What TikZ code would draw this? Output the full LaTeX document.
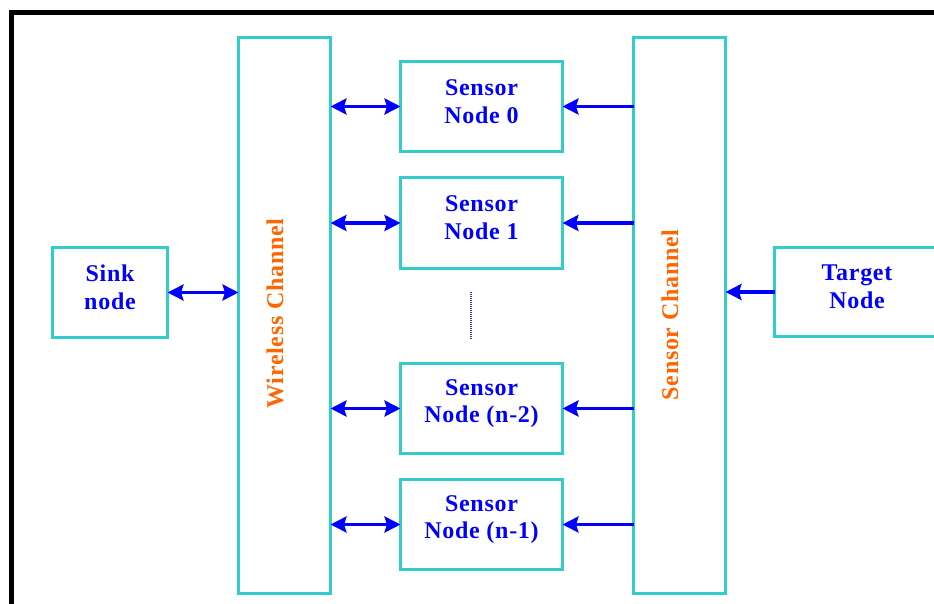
\documentclass[tikz,border=0pt]{standalone}
\usepackage{fontspec}
\setmainfont{Liberation Serif}[LetterSpace=3]
\usetikzlibrary{arrows.meta}
\definecolor{boxline}{RGB}{51,204,204}
\definecolor{chantext}{RGB}{255,102,0}
\definecolor{nodetext}{RGB}{0,0,255}
\definecolor{dotline}{RGB}{60,60,130}
\begin{document}
\begin{tikzpicture}[x=1pt,y=-1pt,
  blk/.style={draw=boxline, line width=3pt, fill=white, inner sep=0pt, outer sep=0pt},
  chanbox/.style={blk, minimum width=92pt, minimum height=556pt},
  sensbox/.style={blk, minimum width=162pt, minimum height=90pt},
  lbl/.style={align=center, inner sep=0pt, text=nodetext,
    font=\bfseries\fontsize{24}{27.7}\selectfont},
  chanlbl/.style={rotate=90, anchor=base, inner sep=0pt, text=chantext,
    font=\bfseries\fontsize{24}{27.7}\selectfont},
  tip/.tip={Stealth[length=16pt,width=16pt,inset=2.5pt]},
  link/.style={draw=blue, line width=3.5pt, tip-tip},
  feed/.style={draw=blue, line width=3.5pt, -tip}]
\clip (0,0) rectangle (934,604);
\useasboundingbox (0,0) rectangle (934,604);

% frame along the top and left edges
\draw[line width=5pt] (11.5,620) -- (11.5,12.5) -- (950,12.5);

% the two channels
\node[chanbox] (wc) at (284.5,315.5) {};
\node[chanbox] (sc) at (679.5,315.5) {};
\node[chanlbl] at (283,313.5) {Wireless Channel};
\node[chanlbl] at (678,315) {Sensor Channel};

% sensor nodes
\node[sensbox] (s0) at (481.5,106.5) {};
\node[sensbox] (s1) at (481.5,223) {};
\node[sensbox] (s2) at (481.5,408.5) {};
\node[sensbox] (s3) at (481.5,524.5) {};
\node[lbl] at ([yshift=5pt]s0.center) {Sensor\\Node 0};
\node[lbl] at ([yshift=5pt]s1.center) {Sensor\\Node 1};
\node[lbl] at ([yshift=5pt]s2.center) {Sensor\\Node (n-2)};
\node[lbl] at ([yshift=5pt]s3.center) {Sensor\\Node (n-1)};

% sink and target
\node[blk, minimum width=115pt, minimum height=90pt] (sink) at (110,292.5) {};
\node[blk, minimum width=165pt, minimum height=89pt] (target) at (857,292) {};
\node[lbl] at ([yshift=5pt]sink.center) {Sink\\node};
\node[lbl] at ([yshift=5pt]target.center) {Target\\Node};

% elided nodes between 1 and n-2
\coordinate (gapA) at (471,292);
\coordinate (gapB) at (471,340);
\draw[dotline, line width=2pt, dash pattern=on 1pt off 1pt] (gapA) -- (gapB);

% connections
\draw[link] (sink.east) -- (wc.west |- sink.east);
\foreach \s in {s0,s1,s2,s3}{
  \draw[link] (wc.east |- \s.west) -- (\s.west);
  \draw[feed] (sc.west |- \s.east) -- (\s.east);
}
\draw[feed] (target.west) -- (sc.east |- target.west);
\end{tikzpicture}
\end{document}
